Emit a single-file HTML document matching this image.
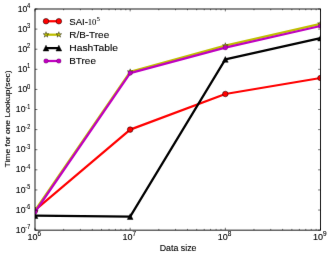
<!DOCTYPE html>
<html><head><meta charset="utf-8"><title>chart</title><style>html,body{margin:0;padding:0;background:#fff;overflow:hidden}body{width:333px;height:257px;font-family:"Liberation Sans",sans-serif}</style></head><body>
<svg width="333" height="257" viewBox="0 0 333 257" style="display:block">
<defs><clipPath id="c"><rect x="35.0" y="9.0" width="285.50" height="221.15"/></clipPath><filter id="b" color-interpolation-filters="sRGB" x="0" y="0" width="333" height="257" filterUnits="userSpaceOnUse"><feConvolveMatrix order="3" kernelMatrix="0.0025 0.0450 0.0025 0.0450 0.8100 0.0450 0.0025 0.0450 0.0025" edgeMode="duplicate" preserveAlpha="true"/></filter></defs>
<g filter="url(#b)">
<rect width="333" height="257" fill="#fff"/>
<g clip-path="url(#c)" fill="none" stroke-linejoin="round">
<polyline points="35.00,210.20 130.17,129.60 225.33,94.00 320.50,78.00" stroke="#ff0000" stroke-width="2.25"/>
<circle cx="35.00" cy="210.20" r="2.8" fill="#ff0000" stroke="#000" stroke-opacity="0.9" stroke-width="0.55"/>
<circle cx="130.17" cy="129.60" r="2.8" fill="#ff0000" stroke="#000" stroke-opacity="0.9" stroke-width="0.55"/>
<circle cx="225.33" cy="94.00" r="2.8" fill="#ff0000" stroke="#000" stroke-opacity="0.9" stroke-width="0.55"/>
<circle cx="320.50" cy="78.00" r="2.8" fill="#ff0000" stroke="#000" stroke-opacity="0.9" stroke-width="0.55"/>
<polyline points="35.00,210.50 130.17,71.80 225.33,45.70 320.50,23.80" stroke="#bfbf00" stroke-width="2.25"/>
<polygon points="35.00,207.50 35.67,209.57 37.85,209.57 36.09,210.85 36.76,212.93 35.00,211.65 33.24,212.93 33.91,210.85 32.15,209.57 34.33,209.57" fill="#bfbf00" stroke="#000" stroke-opacity="0.8" stroke-width="0.5"/>
<polygon points="130.17,68.80 130.84,70.87 133.02,70.87 131.26,72.15 131.93,74.23 130.17,72.95 128.40,74.23 129.08,72.15 127.31,70.87 129.49,70.87" fill="#bfbf00" stroke="#000" stroke-opacity="0.8" stroke-width="0.5"/>
<polygon points="225.33,42.70 226.01,44.77 228.19,44.77 226.42,46.05 227.10,48.13 225.33,46.85 223.57,48.13 224.24,46.05 222.48,44.77 224.66,44.77" fill="#bfbf00" stroke="#000" stroke-opacity="0.8" stroke-width="0.5"/>
<polygon points="320.50,20.80 321.17,22.87 323.35,22.87 321.59,24.15 322.26,26.23 320.50,24.95 318.74,26.23 319.41,24.15 317.65,22.87 319.83,22.87" fill="#bfbf00" stroke="#000" stroke-opacity="0.8" stroke-width="0.5"/>
<polyline points="35.00,215.70 130.17,216.60 225.33,59.40 320.50,38.10" stroke="#000" stroke-width="2.25"/>
<polygon points="32.15,218.55 37.85,218.55 35.00,212.85" fill="#000" stroke="#000" stroke-width="0.5"/>
<polygon points="127.32,219.45 133.02,219.45 130.17,213.75" fill="#000" stroke="#000" stroke-width="0.5"/>
<polygon points="222.48,62.25 228.18,62.25 225.33,56.55" fill="#000" stroke="#000" stroke-width="0.5"/>
<polygon points="317.65,40.95 323.35,40.95 320.50,35.25" fill="#000" stroke="#000" stroke-width="0.5"/>
<polyline points="35.00,212.10 130.17,73.10 225.33,47.70 320.50,26.00" stroke="#bf00bf" stroke-width="2.25"/>
<circle cx="35.00" cy="212.10" r="2.35" fill="#bf00bf" stroke="#000" stroke-opacity="0.5" stroke-width="0.4"/>
<circle cx="130.17" cy="73.10" r="2.35" fill="#bf00bf" stroke="#000" stroke-opacity="0.5" stroke-width="0.4"/>
<circle cx="225.33" cy="47.70" r="2.35" fill="#bf00bf" stroke="#000" stroke-opacity="0.5" stroke-width="0.4"/>
<circle cx="320.50" cy="26.00" r="2.35" fill="#bf00bf" stroke="#000" stroke-opacity="0.5" stroke-width="0.4"/>
</g>
<path d="M35.0 230.15h2.4M320.5 230.15h-2.4M35.0 210.05h2.4M320.5 210.05h-2.4M35.0 189.94h2.4M320.5 189.94h-2.4M35.0 169.84h2.4M320.5 169.84h-2.4M35.0 149.73h2.4M320.5 149.73h-2.4M35.0 129.63h2.4M320.5 129.63h-2.4M35.0 109.52h2.4M320.5 109.52h-2.4M35.0 89.42h2.4M320.5 89.42h-2.4M35.0 69.31h2.4M320.5 69.31h-2.4M35.0 49.21h2.4M320.5 49.21h-2.4M35.0 29.10h2.4M320.5 29.10h-2.4M35.0 9.00h2.4M320.5 9.00h-2.4M35.00 230.15v-2.4M35.00 9.0v2.4M130.17 230.15v-2.4M130.17 9.0v2.4M225.33 230.15v-2.4M225.33 9.0v2.4M320.50 230.15v-2.4M320.50 9.0v2.4" stroke="#000" stroke-width="0.55" fill="none"/>
<path d="M63.65 230.15v-1.3M63.65 9.0v1.3M80.41 230.15v-1.3M80.41 9.0v1.3M92.30 230.15v-1.3M92.30 9.0v1.3M101.52 230.15v-1.3M101.52 9.0v1.3M109.05 230.15v-1.3M109.05 9.0v1.3M115.43 230.15v-1.3M115.43 9.0v1.3M120.94 230.15v-1.3M120.94 9.0v1.3M125.81 230.15v-1.3M125.81 9.0v1.3M158.81 230.15v-1.3M158.81 9.0v1.3M175.57 230.15v-1.3M175.57 9.0v1.3M187.46 230.15v-1.3M187.46 9.0v1.3M196.69 230.15v-1.3M196.69 9.0v1.3M204.22 230.15v-1.3M204.22 9.0v1.3M210.59 230.15v-1.3M210.59 9.0v1.3M216.11 230.15v-1.3M216.11 9.0v1.3M220.98 230.15v-1.3M220.98 9.0v1.3M253.98 230.15v-1.3M253.98 9.0v1.3M270.74 230.15v-1.3M270.74 9.0v1.3M282.63 230.15v-1.3M282.63 9.0v1.3M291.85 230.15v-1.3M291.85 9.0v1.3M299.39 230.15v-1.3M299.39 9.0v1.3M305.76 230.15v-1.3M305.76 9.0v1.3M311.28 230.15v-1.3M311.28 9.0v1.3M316.15 230.15v-1.3M316.15 9.0v1.3" stroke="#000" stroke-width="0.5" fill="none"/>
<rect x="35.0" y="9.0" width="285.50" height="221.15" fill="none" stroke="#000" stroke-width="0.9"/>
<g font-family="Liberation Sans, sans-serif" fill="#000" stroke="#000" stroke-width="0.1">
<text transform="translate(25.50 232.80) scale(1.06 1)" text-anchor="end" font-size="8.2" >10</text>
<text transform="translate(25.35 229.30) scale(0.84 1)" text-anchor="start" font-size="6.4" >-7</text>
<text transform="translate(25.50 212.70) scale(1.06 1)" text-anchor="end" font-size="8.2" >10</text>
<text transform="translate(25.35 209.20) scale(0.84 1)" text-anchor="start" font-size="6.4" >-6</text>
<text transform="translate(25.50 192.59) scale(1.06 1)" text-anchor="end" font-size="8.2" >10</text>
<text transform="translate(25.35 189.09) scale(0.84 1)" text-anchor="start" font-size="6.4" >-5</text>
<text transform="translate(25.50 172.49) scale(1.06 1)" text-anchor="end" font-size="8.2" >10</text>
<text transform="translate(25.35 168.99) scale(0.84 1)" text-anchor="start" font-size="6.4" >-4</text>
<text transform="translate(25.50 152.38) scale(1.06 1)" text-anchor="end" font-size="8.2" >10</text>
<text transform="translate(25.35 148.88) scale(0.84 1)" text-anchor="start" font-size="6.4" >-3</text>
<text transform="translate(25.50 132.28) scale(1.06 1)" text-anchor="end" font-size="8.2" >10</text>
<text transform="translate(25.35 128.78) scale(0.84 1)" text-anchor="start" font-size="6.4" >-2</text>
<text transform="translate(25.50 112.17) scale(1.06 1)" text-anchor="end" font-size="8.2" >10</text>
<text transform="translate(25.35 108.67) scale(0.84 1)" text-anchor="start" font-size="6.4" >-1</text>
<text transform="translate(27.40 92.07) scale(1.06 1)" text-anchor="end" font-size="8.2" >10</text>
<text transform="translate(26.95 88.57) scale(0.88 1)" text-anchor="start" font-size="6.6" >0</text>
<text transform="translate(27.40 71.96) scale(1.06 1)" text-anchor="end" font-size="8.2" >10</text>
<text transform="translate(26.95 68.46) scale(0.88 1)" text-anchor="start" font-size="6.6" >1</text>
<text transform="translate(27.40 51.86) scale(1.06 1)" text-anchor="end" font-size="8.2" >10</text>
<text transform="translate(26.95 48.36) scale(0.88 1)" text-anchor="start" font-size="6.6" >2</text>
<text transform="translate(27.40 31.75) scale(1.06 1)" text-anchor="end" font-size="8.2" >10</text>
<text transform="translate(26.95 28.25) scale(0.88 1)" text-anchor="start" font-size="6.6" >3</text>
<text transform="translate(27.40 11.65) scale(1.06 1)" text-anchor="end" font-size="8.2" >10</text>
<text transform="translate(26.95 8.15) scale(0.88 1)" text-anchor="start" font-size="6.6" >4</text>
<text transform="translate(37.45 240.05) scale(1.1 1)" text-anchor="end" font-size="8.2" >10</text>
<text transform="translate(37.45 236.35) scale(0.98 1)" text-anchor="start" font-size="6.6" >6</text>
<text transform="translate(132.62 240.05) scale(1.1 1)" text-anchor="end" font-size="8.2" >10</text>
<text transform="translate(132.62 236.35) scale(0.98 1)" text-anchor="start" font-size="6.6" >7</text>
<text transform="translate(227.78 240.05) scale(1.1 1)" text-anchor="end" font-size="8.2" >10</text>
<text transform="translate(227.78 236.35) scale(0.98 1)" text-anchor="start" font-size="6.6" >8</text>
<text transform="translate(322.95 240.05) scale(1.1 1)" text-anchor="end" font-size="8.2" >10</text>
<text transform="translate(322.95 236.35) scale(0.98 1)" text-anchor="start" font-size="6.6" >9</text>
<text transform="translate(178.10 251.10) scale(1.05 1)" text-anchor="middle" font-size="8.4" >Data size</text>
<text transform="translate(9.8 119) rotate(-90) scale(1.07 1)" text-anchor="middle" font-size="8.0">Time for one Lookup(sec)</text>
<text transform="translate(69.20 24.75) scale(1.04 1)" text-anchor="start" font-size="9.3" stroke-width="0.1">SAI-</text>
<text transform="translate(87.70 24.75) scale(0.98 1)" text-anchor="start" font-size="8.9" font-family="Liberation Serif, serif" stroke-width="0.05">10<tspan font-size="7" dy="-3.5" dx="0.1">5</tspan></text>
<text transform="translate(69.20 37.75) scale(1.07 1)" text-anchor="start" font-size="9.3" stroke-width="0.1">R/B-Tree</text>
<text transform="translate(69.20 51.15) scale(1.11 1)" text-anchor="start" font-size="9.3" stroke-width="0.1">HashTable</text>
<text transform="translate(69.20 64.05) scale(1.07 1)" text-anchor="start" font-size="9.3" stroke-width="0.1">BTree</text>
</g>
<g fill="none">
<line x1="46.0" x2="58.85" y1="21.25" y2="21.25" stroke="#f00" stroke-width="2.25"/>
<circle cx="46.00" cy="21.25" r="2.8" fill="#ff0000" stroke="#000" stroke-opacity="0.9" stroke-width="0.55"/>
<circle cx="58.85" cy="21.25" r="2.8" fill="#ff0000" stroke="#000" stroke-opacity="0.9" stroke-width="0.55"/>
<line x1="46.0" x2="58.85" y1="34.7" y2="34.7" stroke="#bfbf00" stroke-width="2.25"/>
<polygon points="46.00,31.70 46.67,33.77 48.85,33.77 47.09,35.05 47.76,37.13 46.00,35.85 44.24,37.13 44.91,35.05 43.15,33.77 45.33,33.77" fill="#bfbf00" stroke="#000" stroke-opacity="0.8" stroke-width="0.5"/>
<polygon points="58.85,31.70 59.52,33.77 61.70,33.77 59.94,35.05 60.61,37.13 58.85,35.85 57.09,37.13 57.76,35.05 56.00,33.77 58.18,33.77" fill="#bfbf00" stroke="#000" stroke-opacity="0.8" stroke-width="0.5"/>
<line x1="46.0" x2="58.85" y1="48.1" y2="48.1" stroke="#000" stroke-width="2.25"/>
<polygon points="43.15,50.95 48.85,50.95 46.00,45.25" fill="#000" stroke="#000" stroke-width="0.5"/>
<polygon points="56.00,50.95 61.70,50.95 58.85,45.25" fill="#000" stroke="#000" stroke-width="0.5"/>
<line x1="46.0" x2="58.85" y1="61.0" y2="61.0" stroke="#bf00bf" stroke-width="2.25"/>
<circle cx="46.00" cy="61.00" r="2.35" fill="#bf00bf" stroke="#000" stroke-opacity="0.5" stroke-width="0.4"/>
<circle cx="58.85" cy="61.00" r="2.35" fill="#bf00bf" stroke="#000" stroke-opacity="0.5" stroke-width="0.4"/>
</g></g></svg>
</body></html>
